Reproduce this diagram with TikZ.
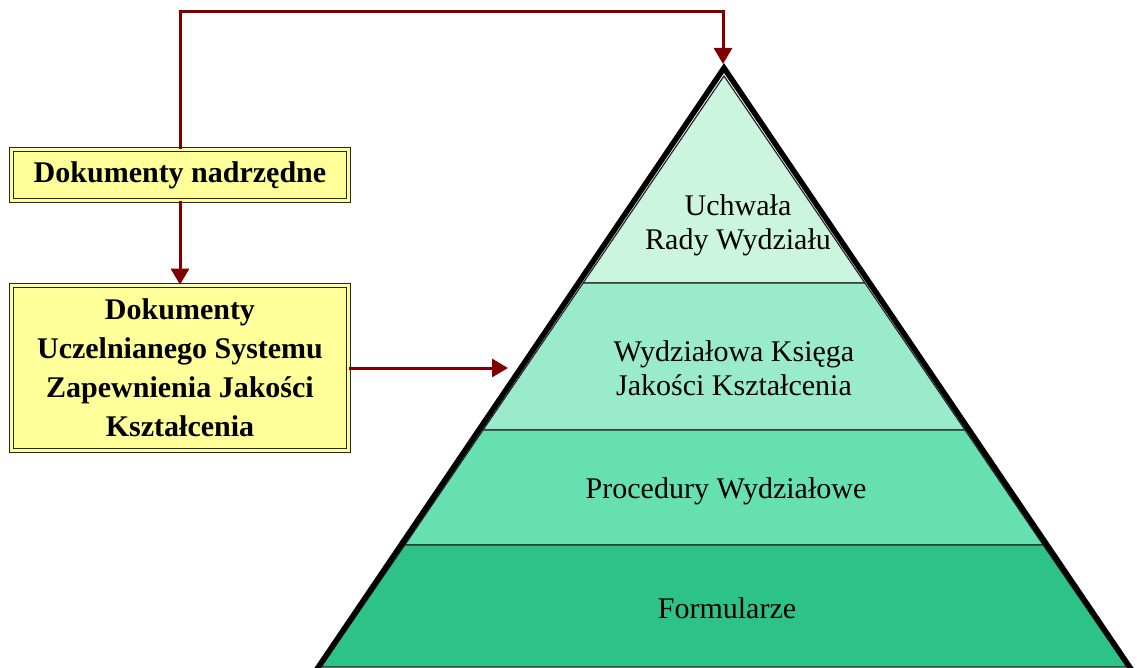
\documentclass[tikz,border=0pt]{standalone}
\usepackage{fontspec}
\setmainfont{Liberation Serif}
\usetikzlibrary{arrows.meta}

\definecolor{docyellow}{HTML}{FFFF99}
\definecolor{arrowred}{HTML}{800000}
\definecolor{layerA}{HTML}{CCF5E0}
\definecolor{layerB}{HTML}{99EBCB}
\definecolor{layerC}{HTML}{66E0B0}
\definecolor{layerD}{HTML}{2DC287}

\begin{document}
\begin{tikzpicture}[
        x=1pt, y=-1pt,
        >={Triangle[length=16pt, width=18pt]},
        doc/.style={draw=black!85, line width=1.7pt, double=docyellow, double distance=2.5pt, fill=docyellow, align=center, inner sep=0pt, font=\fontsize{30}{39}\selectfont\bfseries},
        link/.style={->, line width=3pt, draw=arrowred},
        layer/.style={draw=black!85, line width=1.2pt},
        leveltext/.style={align=center, font=\fontsize{30}{34}\selectfont}
    ]
    \useasboundingbox (0,0) rectangle (1137,668);

    % --- Pyramid layers ---
    \filldraw[layer, fill=layerA] (724,76) -- (864.9,283) -- (583.1,283) -- cycle;
    \filldraw[layer, fill=layerB] (583.1,283) -- (864.9,283) -- (965,430) -- (483,430) -- cycle;
    \filldraw[layer, fill=layerC] (483,430) -- (965,430) -- (1043.2,545) -- (404.8,545) -- cycle;
    \filldraw[layer, fill=layerD] (404.8,545) -- (1043.2,545) -- (1127,667) -- (321,667) -- cycle;
    \draw[line width=5.5pt, line join=miter] (315,672) -- (724,68) -- (1133,672);

    \node[leveltext] (uchwala) at (738,225) {Uchwała\\Rady Wydziału};
    \node[leveltext] (ksiega) at (734,368) {Wydziałowa Księga\\Jakości Kształcenia};
    \node[leveltext] (procedury) at (726,491) {Procedury Wydziałowe};
    \node[leveltext] (formularze) at (727,608) {Formularze};

    % --- Documents ---
    \node[doc, minimum width=337pt, minimum height=51pt] (nadrzedne) at (180,175) {Dokumenty nadrzędne};
    \node[doc, minimum width=337pt, minimum height=165pt] (uszjk) at (180,368) {Dokumenty\\Uczelnianego Systemu\\Zapewnienia Jakości\\Kształcenia};

    \coordinate (apex) at (723,64);
    \coordinate (side) at (508,368);

    % --- Edges ---
    \draw[link] (nadrzedne.north) -- ++(0,-137) -| (apex);
    \draw[link] (nadrzedne.south) -- (uszjk.north);
    \draw[link] (uszjk.east) -- (side);

\end{tikzpicture}
\end{document}
